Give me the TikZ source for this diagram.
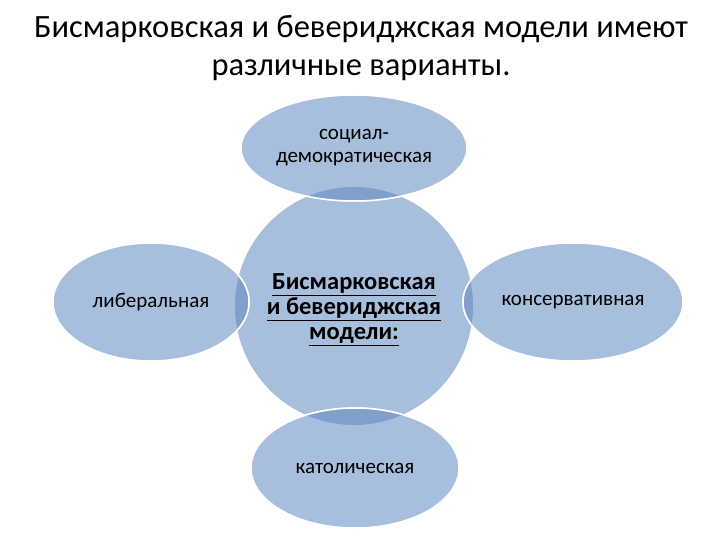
\documentclass[tikz,border=0pt]{standalone}
\usepackage{fontspec}
\setmainfont{Carlito}
\usetikzlibrary{shapes.geometric}

\definecolor{petalblue}{HTML}{A7BEDC}
\definecolor{overlapblue}{HTML}{819FCB}

\tikzset{
    petal/.style={ellipse, draw=white, line width=1.5pt, fill=petalblue, inner sep=0pt, align=center, font=\fontsize{21}{23}\selectfont},
    hub/.style={circle, fill=petalblue, inner sep=0pt, minimum size=238pt}
}

\begin{document}
\begin{tikzpicture}[x=1pt, y=-1pt]
    \useasboundingbox (0,0) rectangle (720,540);

    % Title
    \node[align=center, font=\fontsize{32.5}{38}\selectfont] (title) at (361,48) {Бисмарковская и бевериджская модели имеют\\различные варианты.};

    % Central circle
    \node[hub] (models) at (354,306) {};

    % Four ellipses round it
    \node[petal, minimum width=226pt, minimum height=106pt] (socdem) at (354,148) {социал-\\демократическая};
    \node[petal, minimum width=196pt, minimum height=118pt] (liberal) at (151,302) {либеральная};
    \node[petal, minimum width=220pt, minimum height=118pt] (conserv) at (573,302) {консервативная};
    \node[petal, minimum width=208pt, minimum height=120pt] (catholic) at (355,468) {католическая};

    % Overlaps with the circle
    \begin{scope}
        \clip (354,306) circle [radius=119pt];
        \filldraw[fill=overlapblue, draw=white, line width=1.5pt] (354,148) ellipse [x radius=113pt, y radius=53pt];
        \filldraw[fill=overlapblue, draw=white, line width=1.5pt] (151,302) ellipse [x radius=98pt, y radius=59pt];
        \filldraw[fill=overlapblue, draw=white, line width=1.5pt] (573,302) ellipse [x radius=110pt, y radius=59pt];
        \filldraw[fill=overlapblue, draw=white, line width=1.5pt] (355,468) ellipse [x radius=104pt, y radius=60pt];
    \end{scope}

    % Central text
    \node[align=center, font=\fontsize{24.5}{25}\selectfont\bfseries] (hubtext) at (354,310) {\underline{Бисмарковская}\\\underline{и бевериджская}\\\underline{модели:}};
\end{tikzpicture}
\end{document}
